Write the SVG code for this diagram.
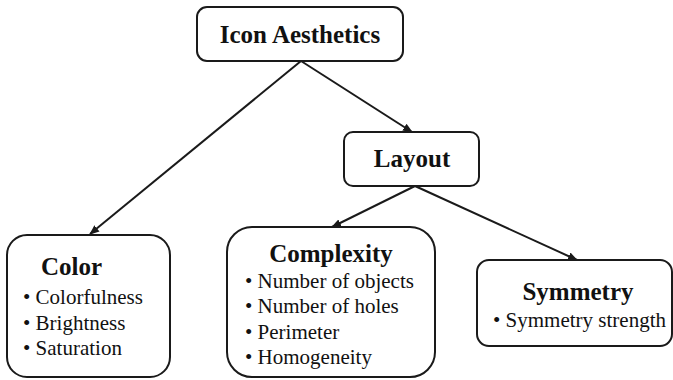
<svg xmlns="http://www.w3.org/2000/svg" width="673" height="380" viewBox="0 0 673 380">
<style>
.box{fill:#fff;stroke:#1a1a1a;stroke-width:2}
.h{font-family:'Liberation Serif',Tinos,'Times New Roman','DejaVu Serif',serif;font-weight:bold;font-size:25px;fill:#111}
.b{font-family:'Liberation Serif',Tinos,'Times New Roman','DejaVu Serif',serif;font-size:21px;fill:#111}
.edge{stroke:#1a1a1a;stroke-width:2;fill:none;marker-end:url(#arr)}
</style>
<defs>
<marker id="arr" viewBox="0 0 10 10" refX="9" refY="5" markerWidth="5" markerHeight="5" orient="auto" markerUnits="strokeWidth">
<path d="M0,1 L10,5 L0,9 z" fill="#1a1a1a"/>
</marker>
</defs>
<rect width="673" height="380" fill="#fff"/>
<g id="connectors">
<line class="edge" x1="301" y1="61" x2="90" y2="234"/>
<line class="edge" x1="301" y1="61" x2="412" y2="132"/>
<line class="edge" x1="415" y1="186" x2="332" y2="227"/>
<line class="edge" x1="415" y1="186" x2="577" y2="260"/>
</g>
<g id="icon-aesthetics">
<rect class="box" x="197" y="7" width="206" height="54" rx="10"/>
<text class="h" x="300" y="43" text-anchor="middle" font-family="Liberation Serif, serif">Icon Aesthetics</text>
</g>
<g id="layout">
<rect class="box" x="344" y="132" width="135" height="54" rx="9"/>
<text class="h" x="412" y="167" text-anchor="middle">Layout</text>
</g>
<g id="color">
<rect class="box" x="7" y="235" width="163" height="142" rx="20"/>
<text class="h" x="41" y="275">Color</text>
<text class="b" x="23" y="303.5">• Colorfulness</text>
<text class="b" x="23" y="329.5">• Brightness</text>
<text class="b" x="23" y="355">• Saturation</text>
</g>
<g id="complexity">
<rect class="box" x="227" y="227" width="208" height="150" rx="25"/>
<text class="h" x="331" y="262" text-anchor="middle">Complexity</text>
<text class="b" x="245" y="288">• Number of objects</text>
<text class="b" x="245" y="313">• Number of holes</text>
<text class="b" x="245" y="338.5">• Perimeter</text>
<text class="b" x="245" y="364">• Homogeneity</text>
</g>
<g id="symmetry">
<rect class="box" x="477" y="260" width="195" height="86" rx="12"/>
<text class="h" x="578" y="300" text-anchor="middle">Symmetry</text>
<text class="b" x="493" y="326.5">• Symmetry strength</text>
</g>
</svg>
